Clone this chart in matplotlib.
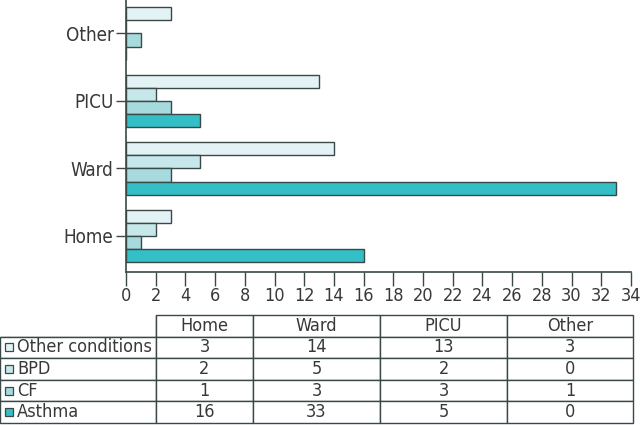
import matplotlib
matplotlib.use("Agg")
import matplotlib.pyplot as plt
from matplotlib.patches import Rectangle
import numpy as np

categories = ["Home", "Ward", "PICU", "Other"]
series_names = ["Other conditions", "BPD", "CF", "Asthma"]
other_conditions = [3, 14, 13, 3]
bpd = [2, 5, 2, 0]
cf = [1, 3, 3, 1]
asthma = [16, 33, 5, 0]
series_values = [other_conditions, bpd, cf, asthma]
colors = ["#e3f3f5", "#c6e8ea", "#a6dadd", "#33bfc5"]
edge = "#3b4848"
xticks = list(range(0, 35, 2))

plt.rcParams['font.family'] = ['DejaVu Sans']
plt.rcParams['font.stretch'] = 'condensed'
plt.rcParams['font.size'] = 12

fig = plt.figure(figsize=(6.4, 4.25), dpi=100)
ax = fig.add_axes([126/640, 1-272/425, (631-126)/640, 272/425])

y = np.arange(len(categories))
h = 0.195
for i, (vals, col) in enumerate(zip(series_values, colors)):
    offset = (1.5 - i) * h
    ax.barh(y + offset, vals, height=h, color=col, edgecolor=edge, linewidth=1.0)

ax.set_xlim(0, 34)
ax.set_ylim(-0.535, -0.535 + 272/67.5)
ax.set_xticks(xticks)
ax.set_yticks(y)
ax.set_yticklabels(categories, fontsize=13.5)
ax.tick_params(axis='x', labelsize=13, length=10, width=1, color=edge, pad=1, labelcolor="#383838")
ax.tick_params(axis='y', length=7, width=1, color=edge, pad=2, labelcolor="#383838")
for s in ["top", "right"]:
    ax.spines[s].set_visible(False)
for s in ["left", "bottom"]:
    ax.spines[s].set_color(edge)
    ax.spines[s].set_linewidth(1.2)

# Table
tax = fig.add_axes([0, 2/425, 633/640, (423-315)/425])
tax.axis("off")
col_px = [156, 97, 127, 127, 126]
total = sum(col_px)
col_w = [c/total for c in col_px]
cell_text = [[""] + categories]
for name, vals in zip(series_names, series_values):
    cell_text.append([name] + [str(v) for v in vals])
tbl = tax.table(cellText=cell_text, colWidths=col_w, bbox=[0, 0, 1, 1], cellLoc='center')
tbl.auto_set_font_size(False)
nrows = len(cell_text)
for (r, c), cell in tbl.get_celld().items():
    cell.set_edgecolor(edge)
    cell.set_linewidth(1.0)
    cell.get_text().set_fontsize(13)
    cell.get_text().set_color("#383838")
    if c == 0:
        cell._loc = 'left'
        cell.get_text().set_ha('left')
        cell.PAD = 17/156
    if r == 0 and c == 0:
        cell.visible_edges = "BR"
row_h = 1.0 / nrows
sq_w = 8/633
sq_h = 8/108
for i, col in enumerate(colors):
    r = i + 1
    yc = 1 - (r + 0.5) * row_h
    tax.add_patch(Rectangle((5/633, yc - sq_h/2), sq_w, sq_h, facecolor=col,
                            edgecolor=edge, linewidth=0.9, transform=tax.transAxes, zorder=5))

fig.savefig("out.png", dpi=100)
